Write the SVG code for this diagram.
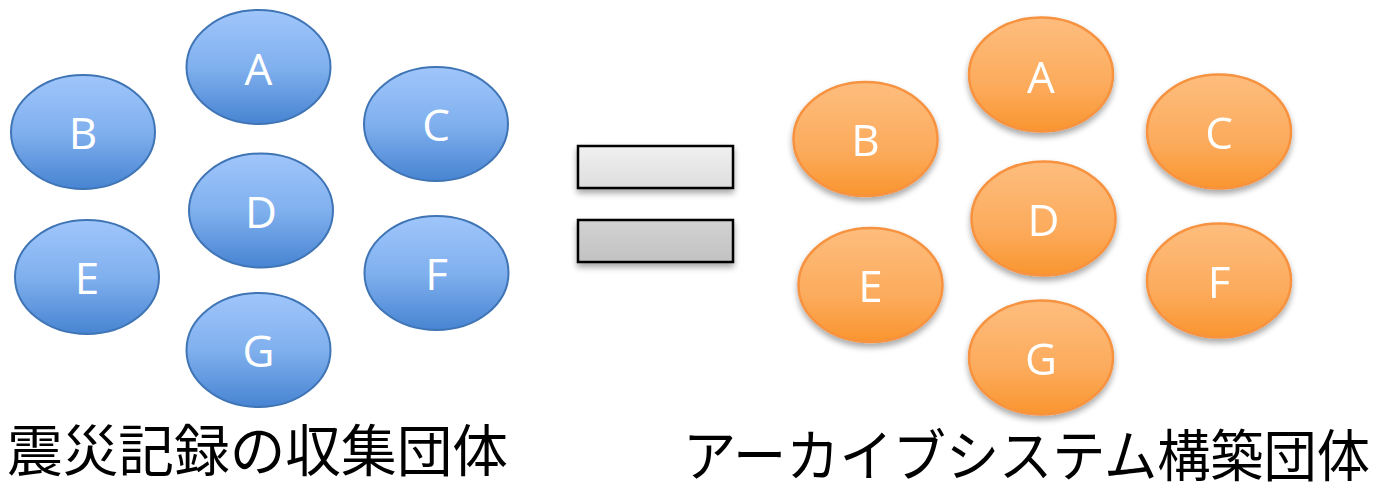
<svg xmlns="http://www.w3.org/2000/svg" width="1374" height="484" viewBox="0 0 1374 484">
<defs>
<linearGradient id="gBlue" x1="0" y1="0" x2="0" y2="1">
<stop offset="0" stop-color="#a0c6fb"/>
<stop offset="0.5" stop-color="#80b0ee"/>
<stop offset="1" stop-color="#4784d2"/>
</linearGradient>
<linearGradient id="gOrange" x1="0" y1="0" x2="0" y2="1">
<stop offset="0" stop-color="#fdbd7e"/>
<stop offset="0.6" stop-color="#fcab5c"/>
<stop offset="1" stop-color="#f9952f"/>
</linearGradient>
<linearGradient id="gBar1" x1="0" y1="0" x2="0" y2="1">
<stop offset="0" stop-color="#f0f0f0"/>
<stop offset="1" stop-color="#dedede"/>
</linearGradient>
<linearGradient id="gBar2" x1="0" y1="0" x2="0" y2="1">
<stop offset="0" stop-color="#d2d2d2"/>
<stop offset="1" stop-color="#c2c2c2"/>
</linearGradient>
<filter id="shadow" x="-20%" y="-20%" width="140%" height="150%">
<feGaussianBlur in="SourceAlpha" stdDeviation="3"/>
<feOffset dx="0" dy="4" result="b"/>
<feComponentTransfer><feFuncA type="linear" slope="0.35"/></feComponentTransfer>
<feMerge><feMergeNode/><feMergeNode in="SourceGraphic"/></feMerge>
</filter>
</defs>
<style>
.blue{fill:url(#gBlue);stroke:#3f74b5;stroke-width:2}
.orange{fill:url(#gOrange);stroke:#f7923f;stroke-width:2.5}
.lbl{font-family:"Open Sans","Liberation Sans",sans-serif;font-size:44px;fill:#ffffff;text-anchor:middle}
.bar{stroke:#000;stroke-width:2.5}
.title{font-family:"Noto Sans CJK JP","Noto Sans CJK SC",sans-serif;font-size:56px;fill:#000}
</style>
<g id="blue-A"><ellipse class="blue" cx="258.5" cy="67" rx="72" ry="57"/><text class="lbl" x="258.5" y="85">A</text></g>
<g id="blue-B"><ellipse class="blue" cx="83" cy="132" rx="72" ry="57"/><text class="lbl" x="83" y="149">B</text></g>
<g id="blue-C"><ellipse class="blue" cx="436" cy="124" rx="72" ry="57"/><text class="lbl" x="436" y="141">C</text></g>
<g id="blue-D"><ellipse class="blue" cx="261" cy="210.5" rx="72" ry="57"/><text class="lbl" x="261" y="228">D</text></g>
<g id="blue-E"><ellipse class="blue" cx="87" cy="277" rx="72" ry="57"/><text class="lbl" x="87" y="294">E</text></g>
<g id="blue-F"><ellipse class="blue" cx="436.5" cy="273" rx="72" ry="57"/><text class="lbl" x="436.5" y="290">F</text></g>
<g id="blue-G"><ellipse class="blue" cx="258.5" cy="350" rx="72" ry="57"/><text class="lbl" x="258.5" y="367">G</text></g>
<g id="equals" filter="url(#shadow)">
<rect class="bar" x="578" y="146" width="155" height="42" fill="url(#gBar1)"/>
<rect class="bar" x="578" y="220" width="155" height="42" fill="url(#gBar2)"/>
</g>
<g id="orange-A" filter="url(#shadow)"><ellipse class="orange" cx="1041" cy="74.5" rx="72" ry="57"/><text class="lbl" x="1041" y="93">A</text></g>
<g id="orange-B" filter="url(#shadow)"><ellipse class="orange" cx="865.5" cy="139" rx="72" ry="57"/><text class="lbl" x="865.5" y="156">B</text></g>
<g id="orange-C" filter="url(#shadow)"><ellipse class="orange" cx="1219" cy="131.5" rx="72" ry="57"/><text class="lbl" x="1219" y="149">C</text></g>
<g id="orange-D" filter="url(#shadow)"><ellipse class="orange" cx="1043.5" cy="218.5" rx="72" ry="57"/><text class="lbl" x="1043.5" y="236">D</text></g>
<g id="orange-E" filter="url(#shadow)"><ellipse class="orange" cx="870.5" cy="285" rx="72" ry="57"/><text class="lbl" x="870.5" y="302">E</text></g>
<g id="orange-F" filter="url(#shadow)"><ellipse class="orange" cx="1219" cy="280.5" rx="72" ry="57"/><text class="lbl" x="1219" y="298">F</text></g>
<g id="orange-G" filter="url(#shadow)"><ellipse class="orange" cx="1041" cy="357.5" rx="72" ry="57"/><text class="lbl" x="1041" y="375">G</text></g>
<g id="titles">
<text class="title" x="7" y="471" textLength="501" lengthAdjust="spacingAndGlyphs">震災記録の収集団体</text>
<text class="title" x="683" y="476" textLength="687" lengthAdjust="spacingAndGlyphs">アーカイブシステム構築団体</text>
</g>
</svg>
